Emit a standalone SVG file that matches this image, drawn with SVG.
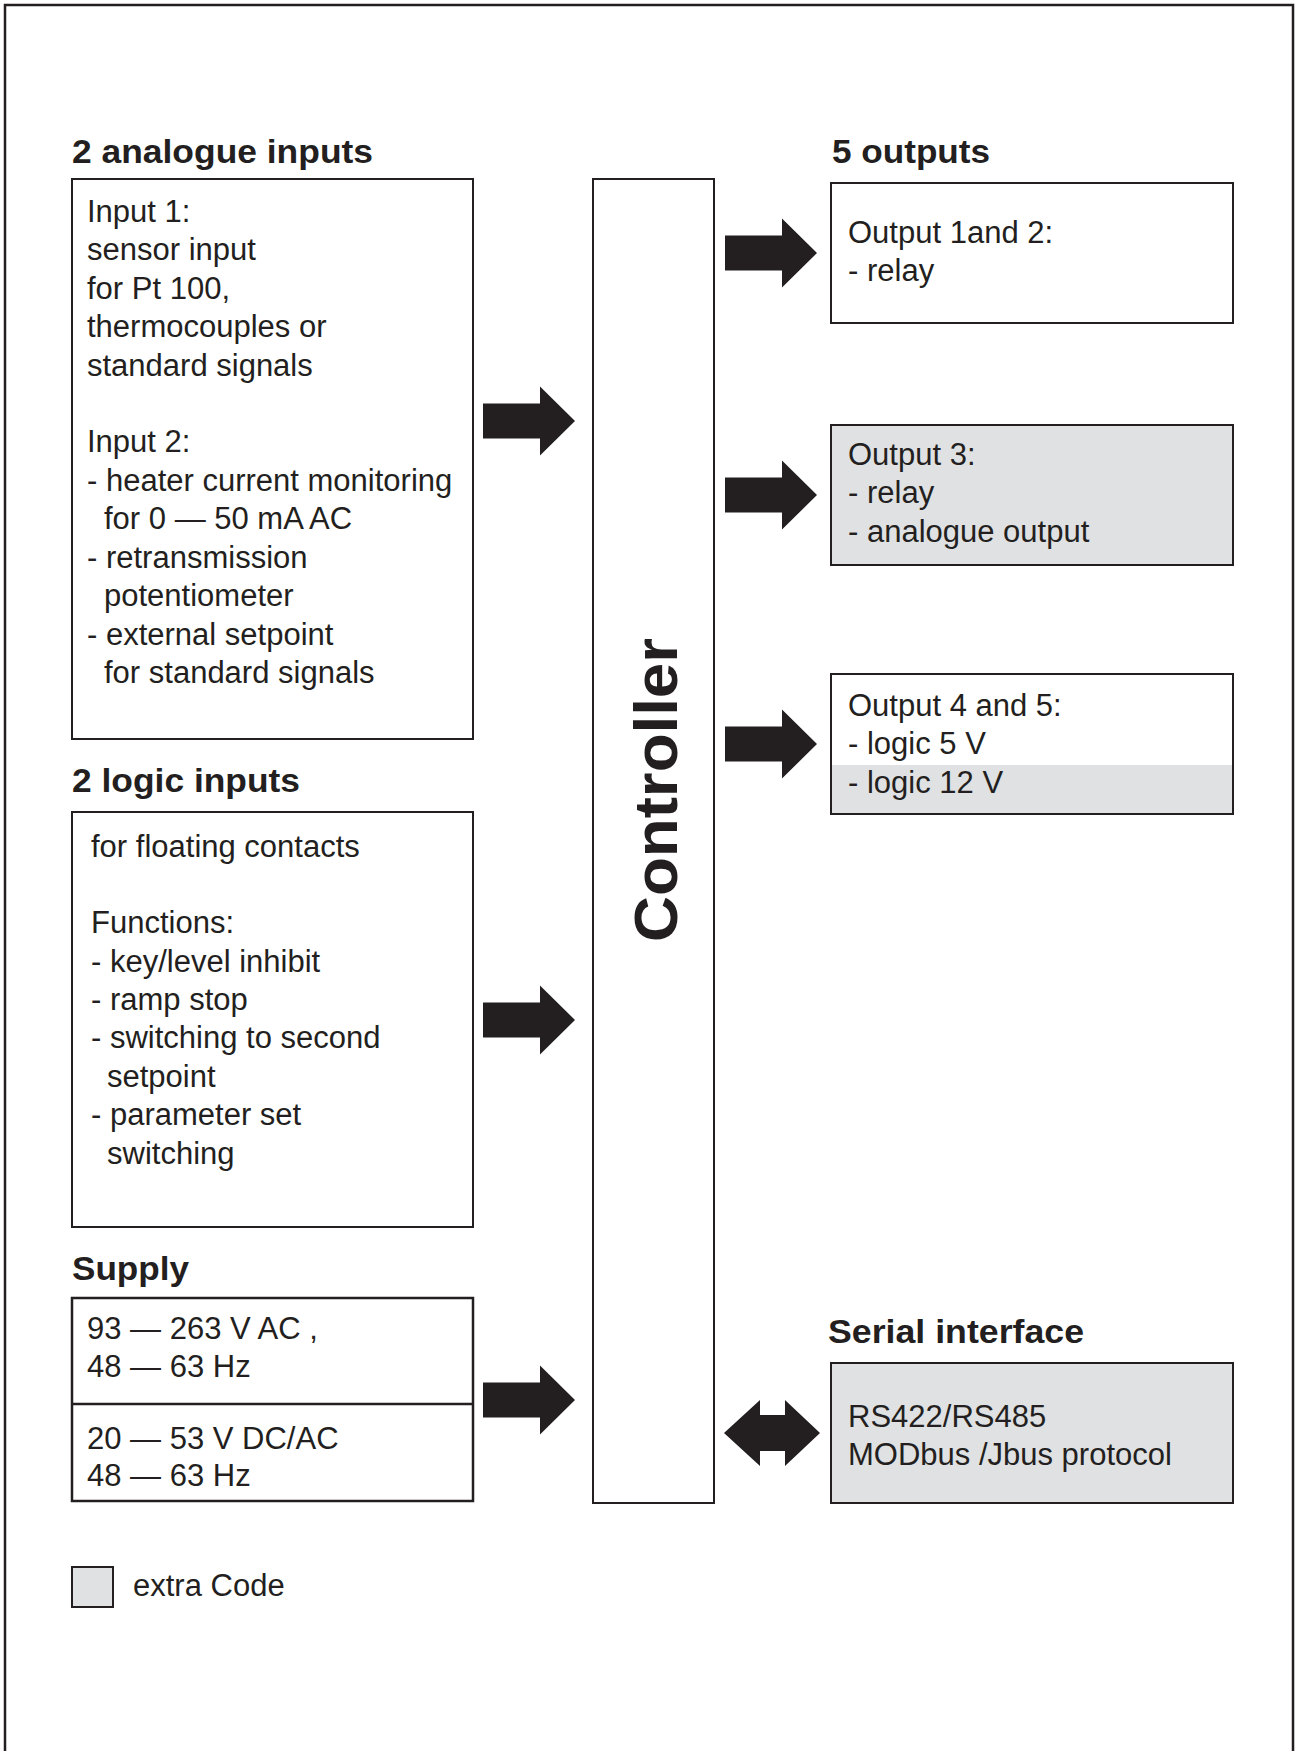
<svg xmlns="http://www.w3.org/2000/svg" width="1296" height="1751" viewBox="0 0 1296 1751">
<style>
.box{fill:#ffffff;stroke:#231f20;stroke-width:2}
.gbox{fill:#e0e1e3;stroke:#231f20;stroke-width:2}
.t{font-family:"Liberation Sans",Arial,Helvetica,sans-serif;font-size:31px;fill:#231f20}
.h{font-family:"Liberation Sans",Arial,Helvetica,sans-serif;font-size:34px;font-weight:bold;fill:#231f20}
.ctl{font-family:"Liberation Sans",Arial,Helvetica,sans-serif;font-size:62px;font-weight:bold;fill:#231f20}
.arr{fill:#231f20}
</style>
<defs>
<path id="arrowR" d="M0,-17.5 H57 V-34.5 L92,0 L57,34.5 V17.5 H0 Z"/>
</defs>
<rect width="1296" height="1751" fill="#ffffff"/>
<rect x="5" y="5" width="1288" height="1800" fill="none" stroke="#231f20" stroke-width="2.5"/>

<g id="analogue-inputs">
<text class="h" x="72" y="163" textLength="301" lengthAdjust="spacingAndGlyphs">2 analogue inputs</text>
<rect class="box" x="72" y="179" width="401" height="560"/>
<text class="t" x="87" y="222">Input 1:</text>
<text class="t" x="87" y="260">sensor input</text>
<text class="t" x="87" y="299">for Pt 100,</text>
<text class="t" x="87" y="337">thermocouples or</text>
<text class="t" x="87" y="376">standard signals</text>
<text class="t" x="87" y="452">Input 2:</text>
<text class="t" x="87" y="491">- heater current monitoring</text>
<text class="t" x="104" y="529">for 0 — 50 mA AC</text>
<text class="t" x="87" y="568">- retransmission</text>
<text class="t" x="104" y="606">potentiometer</text>
<text class="t" x="87" y="645">- external setpoint</text>
<text class="t" x="104" y="683">for standard signals</text>
</g>

<g id="logic-inputs">
<text class="h" x="72" y="792" textLength="228" lengthAdjust="spacingAndGlyphs">2 logic inputs</text>
<rect class="box" x="72" y="812" width="401" height="415"/>
<text class="t" x="91" y="857">for floating contacts</text>
<text class="t" x="91" y="933">Functions:</text>
<text class="t" x="91" y="972">- key/level inhibit</text>
<text class="t" x="91" y="1010">- ramp stop</text>
<text class="t" x="91" y="1048">- switching to second</text>
<text class="t" x="107" y="1087">setpoint</text>
<text class="t" x="91" y="1125">- parameter set</text>
<text class="t" x="107" y="1164">switching</text>
</g>

<g id="supply">
<text class="h" x="72" y="1280" textLength="117" lengthAdjust="spacingAndGlyphs">Supply</text>
<rect x="72" y="1298" width="401" height="203" fill="#ffffff" stroke="#231f20" stroke-width="2.5"/>
<line x1="72" y1="1404" x2="473" y2="1404" stroke="#231f20" stroke-width="2.5"/>
<text class="t" x="87" y="1339">93 — 263 V AC ,</text>
<text class="t" x="87" y="1377">48 — 63 Hz</text>
<text class="t" x="87" y="1449">20 — 53 V DC/AC</text>
<text class="t" x="87" y="1486">48 — 63 Hz</text>
</g>

<g id="controller">
<rect class="box" x="593" y="179" width="121" height="1324"/>
<text class="ctl" transform="translate(677,790) rotate(-90)" text-anchor="middle" textLength="304" lengthAdjust="spacingAndGlyphs">Controller</text>
</g>

<g id="outputs">
<text class="h" x="832" y="163" textLength="158" lengthAdjust="spacingAndGlyphs">5 outputs</text>
</g>

<g id="output-1-2">
<rect class="box" x="831" y="183" width="402" height="140"/>
<text class="t" x="848" y="243">Output 1and 2:</text>
<text class="t" x="848" y="281">- relay</text>
</g>

<g id="output-3">
<rect class="gbox" x="831" y="425" width="402" height="140"/>
<text class="t" x="848" y="465">Output 3:</text>
<text class="t" x="848" y="503">- relay</text>
<text class="t" x="848" y="542">- analogue output</text>
</g>

<g id="output-4-5">
<rect x="831" y="674" width="402" height="140" fill="#ffffff"/>
<rect x="831" y="765" width="402" height="49" fill="#e0e1e3"/>
<rect x="831" y="674" width="402" height="140" fill="none" stroke="#231f20" stroke-width="2"/>
<text class="t" x="848" y="716">Output 4 and 5:</text>
<text class="t" x="848" y="754">- logic 5 V</text>
<text class="t" x="848" y="793">- logic 12 V</text>
</g>

<g id="serial-interface">
<text class="h" x="828" y="1343" textLength="256" lengthAdjust="spacingAndGlyphs">Serial interface</text>
<rect class="gbox" x="831" y="1363" width="402" height="140"/>
<text class="t" x="848" y="1427">RS422/RS485</text>
<text class="t" x="848" y="1465">MODbus /Jbus protocol</text>
</g>

<g id="legend">
<rect class="gbox" x="72" y="1567" width="41" height="40" stroke-width="1.5"/>
<text class="t" x="133" y="1596">extra Code</text>
</g>

<g id="connectors">
<use href="#arrowR" class="arr" transform="translate(483,421)"/>
<use href="#arrowR" class="arr" transform="translate(483,1020)"/>
<use href="#arrowR" class="arr" transform="translate(483,1400)"/>
<use href="#arrowR" class="arr" transform="translate(725,253)"/>
<use href="#arrowR" class="arr" transform="translate(725,495)"/>
<use href="#arrowR" class="arr" transform="translate(725,744)"/>
<path class="arr" d="M724,1433 L760,1400 V1415 H785 V1400 L820,1433 L785,1466 V1451 H760 V1466 Z"/>
</g>
</svg>
